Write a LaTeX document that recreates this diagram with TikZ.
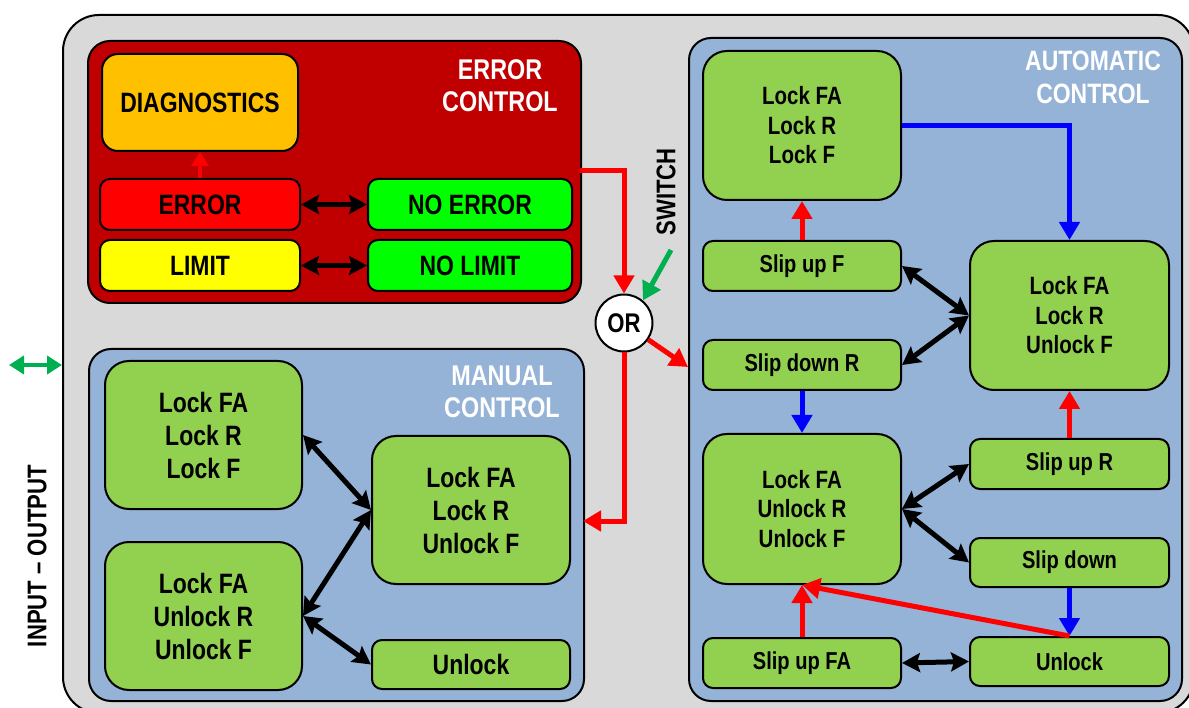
\documentclass[tikz,border=0pt]{standalone}
\usepackage{fontspec}
\setmainfont{Liberation Sans}[FakeStretch=0.82]
\usetikzlibrary{arrows.meta}
\definecolor{bggray}{HTML}{D9D9D9}
\definecolor{panelred}{HTML}{C00000}
\definecolor{panelblue}{HTML}{95B3D7}
\definecolor{boxgreen}{HTML}{92D050}
\definecolor{diagorange}{HTML}{FFC000}
\definecolor{errred}{HTML}{FF0000}
\definecolor{limyellow}{HTML}{FFFF00}
\definecolor{okgreen}{HTML}{00FF00}
\definecolor{arrred}{HTML}{FF0000}
\definecolor{arrblue}{HTML}{0000FF}
\definecolor{arrgreen}{HTML}{00B050}
\begin{document}
\begin{tikzpicture}[x=1pt,y=-1pt,
  panel/.style={draw=black, line width=2pt, rounded corners=22pt, anchor=north west, inner sep=0pt},
  bigbox/.style={draw=black, line width=2pt, fill=boxgreen, rounded corners=24pt, anchor=north west, align=center, inner sep=0pt, font=\bfseries\fontsize{28}{33}\selectfont},
  autobox/.style={bigbox, font=\bfseries\fontsize{25}{29.5}\selectfont},
  smallbox/.style={bigbox, rounded corners=10pt, font=\bfseries\fontsize{24.5}{29}\selectfont},
  errbox/.style={bigbox, rounded corners=10pt, font=\bfseries\fontsize{28}{32}\selectfont},
  ptitle/.style={text=white, align=center, inner sep=0pt, font=\bfseries\fontsize{28.5}{32}\selectfont},
  redarrow/.style={draw=arrred, line width=5pt, -{Triangle[length=18pt,width=20pt]}},
  bluearrow/.style={draw=arrblue, line width=5pt, -{Triangle[length=18pt,width=20pt]}},
  greenarrow/.style={draw=arrgreen, line width=5pt, -{Triangle[length=18pt,width=20pt]}},
  dblarrow/.style={draw=black, line width=5pt, {Stealth[length=18pt,width=19pt,inset=3pt]}-{Stealth[length=18pt,width=19pt,inset=3pt]}},
  iolabel/.style={rotate=90, inner sep=0pt, font=\bfseries\fontsize{27}{32}\selectfont}
]
\useasboundingbox (0,0) rectangle (1189,708);
\clip (0,0) rectangle (1189,708);

% outer gray box
\node[panel, fill=bggray, rounded corners=36pt, minimum width=1131pt, minimum height=698pt] (bg) at (62,14) {};

% ERROR CONTROL panel
\node[panel, fill=panelred, minimum width=493pt, minimum height=262pt] (ec) at (87,40) {};
\node[ptitle] (ect) at (500,86) {ERROR\\CONTROL};
\node[errbox, fill=diagorange, rounded corners=16pt, minimum width=196pt, minimum height=97pt] (diag) at (101,53) {DIAGNOSTICS};
\node[errbox, fill=errred, minimum width=200pt, minimum height=51pt] (err) at (99,178) {ERROR};
\node[errbox, fill=okgreen, minimum width=204pt, minimum height=51pt] (noerr) at (367,178) {NO ERROR};
\node[errbox, fill=limyellow, minimum width=200pt, minimum height=51pt] (lim) at (99,239) {LIMIT};
\node[errbox, fill=okgreen, minimum width=204pt, minimum height=51pt] (nolim) at (367,239) {NO LIMIT};
\draw[draw=arrred, line width=4.5pt, -{Triangle[length=14pt,width=17pt]}] (err.north) -- (diag.south);
\draw[dblarrow] (err.east) -- (noerr.west);
\draw[dblarrow] (lim.east) -- (nolim.west);

% MANUAL CONTROL panel
\node[panel, fill=panelblue, minimum width=495pt, minimum height=352pt] (mc) at (88,348) {};
\node[ptitle] (mct) at (502,392) {MANUAL\\CONTROL};
\node[bigbox, minimum width=197pt, minimum height=148pt] (m1) at (104,360) {Lock FA\\Lock R\\Lock F};
\node[bigbox, minimum width=197pt, minimum height=148pt] (m2) at (104,541) {Lock FA\\Unlock R\\Unlock F};
\node[bigbox, minimum width=198pt, minimum height=148pt] (m3) at (371,435) {Lock FA\\Lock R\\Unlock F};
\node[bigbox, rounded corners=10pt, minimum width=198pt, minimum height=49pt] (m4) at (371,639) {Unlock};
\draw[dblarrow] (m1.east) -- (m3.west);
\draw[dblarrow] (m2.east) -- (m3.west);
\draw[dblarrow] (m2.east) -- (m4.west);

% AUTOMATIC CONTROL panel
\node[panel, fill=panelblue, minimum width=493pt, minimum height=663pt] (ac) at (688,37) {};
\node[ptitle, font=\bfseries\fontsize{28}{33}\selectfont] (act) at (1093,77) {AUTOMATIC\\CONTROL};
\node[autobox, minimum width=198pt, minimum height=149pt] (a1) at (702,50) {Lock FA\\Lock R\\Lock F};
\node[smallbox, minimum width=198pt, minimum height=50pt] (suf) at (702,240) {Slip up F};
\node[smallbox, minimum width=198pt, minimum height=50pt] (sdr) at (702,339) {Slip down R};
\node[autobox, minimum width=199pt, minimum height=149pt] (a2) at (969,240) {Lock FA\\Lock R\\Unlock F};
\node[autobox, minimum width=198pt, minimum height=150pt] (a3) at (702,433) {Lock FA\\Unlock R\\Unlock F};
\node[smallbox, minimum width=199pt, minimum height=50pt] (sur) at (969,438) {Slip up R};
\node[smallbox, minimum width=199pt, minimum height=49pt] (sd) at (969,537) {Slip down};
\node[smallbox, minimum width=198pt, minimum height=50pt] (sfa) at (702,637) {Slip up FA};
\node[smallbox, minimum width=199pt, minimum height=49pt] (ul) at (969,636) {Unlock};

\draw[bluearrow] (a1.east) -| (a2.north);
\draw[redarrow] (suf.north) -- (a1.south);
\draw[dblarrow] (suf.east) -- (a2.west);
\draw[dblarrow] (sdr.east) -- (a2.west);
\draw[bluearrow] (sdr.south) -- (a3.north);
\draw[redarrow] (sur.north) -- (a2.south);
\draw[dblarrow] (a3.east) -- (sur.west);
\draw[dblarrow] (a3.east) -- (sd.west);
\draw[bluearrow] (sd.south) -- (ul.north);
\draw[redarrow] (sfa.north) -- (a3.south);
\draw[redarrow] (ul.north) -- (a3.south);
\draw[dblarrow] (sfa.east) -- (ul.west);

% OR switch
\node[circle, draw=black, line width=2pt, fill=white, minimum size=57pt, inner sep=0pt, font=\bfseries\fontsize{27}{32}\selectfont] (or) at (624,323) {OR};
\coordinate (ecout) at (580,171);
\coordinate (mcin) at (583,521);
\coordinate (acin) at (688,367);
\coordinate (swstart) at (671,250);
\draw[redarrow] (ecout) -| (or.north);
\draw[redarrow] (or.south) |- (mcin);
\draw[redarrow] (or) -- (acin);
\draw[greenarrow] (swstart) -- (or.50);
\node[iolabel] (swl) at (666,192) {SWITCH};

% input - output
\node[iolabel] (iol) at (37,556) {INPUT – OUTPUT};
\coordinate (io1) at (9,365);
\coordinate (io2) at (62,365);
\draw[draw=arrgreen, line width=4pt, {Triangle[length=15pt,width=18pt]}-{Triangle[length=15pt,width=18pt]}] (io1) -- (io2);
\end{tikzpicture}
\end{document}
